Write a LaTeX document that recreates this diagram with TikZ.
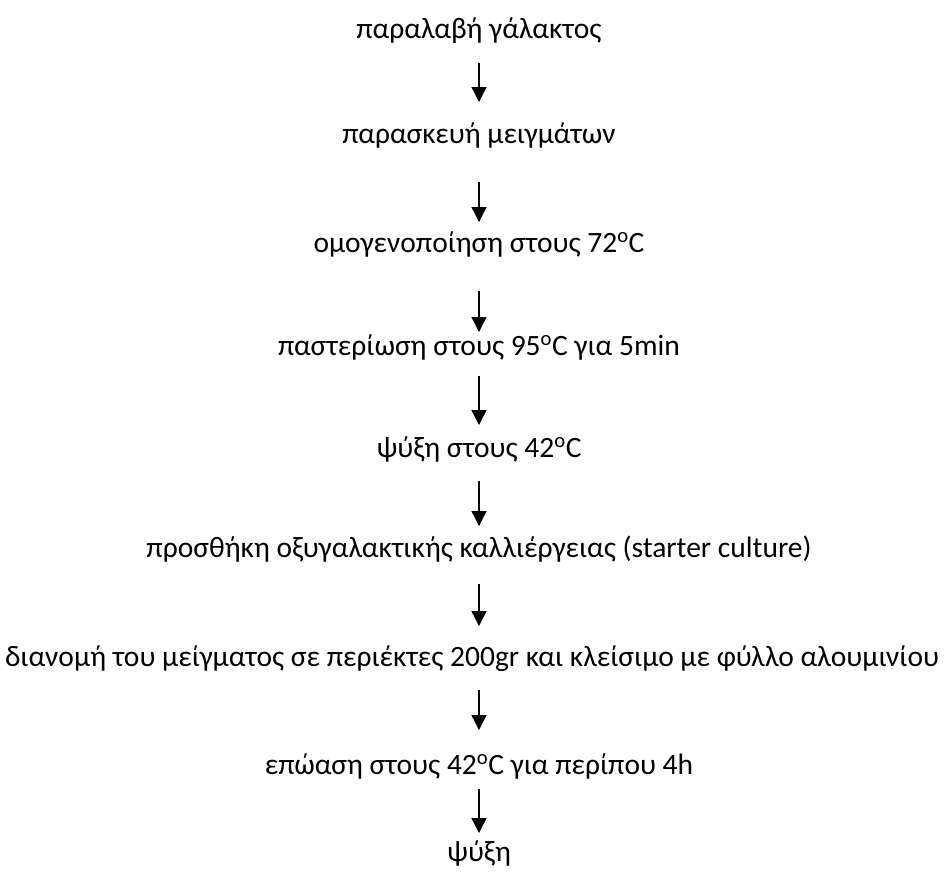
\documentclass[tikz,border=0pt]{standalone}
\usepackage{fontspec}
\setmainfont{Carlito}
\usetikzlibrary{arrows.meta}
\tikzset{
  stepnode/.style={anchor=base, inner sep=0pt, font=\fontsize{29.5}{34}\selectfont},
  flowarrow/.style={line width=1.3pt, -{Triangle[width=15pt,length=15pt]}},
}
\newcommand{\degC}{\textsuperscript{o}C}
\begin{document}
\begin{tikzpicture}[x=1pt,y=-1pt]
\useasboundingbox (0,0) rectangle (944,871);
\node[stepnode] (s1) at (479,38) {παραλαβή γάλακτος};
\node[stepnode] (s2) at (479,143) {παρασκευή μειγμάτων};
\node[stepnode] (s3) at (479,252) {ομογενοποίηση στους 72\degC};
\node[stepnode] (s4) at (479,355) {παστερίωση στους 95\degC{} για 5min};
\node[stepnode] (s5) at (479,457) {ψύξη στους 42\degC};
\node[stepnode] (s6) at (479,557) {προσθήκη οξυγαλακτικής καλλιέργειας (starter culture)};
\node[stepnode] (s7) at (472,666) {διανομή του μείγματος σε περιέκτες 200gr και κλείσιμο με φύλλο αλουμινίου};
\node[stepnode] (s8) at (479,774) {επώαση στους 42\degC{} για περίπου 4h};
\node[stepnode] (s9) at (479,861) {ψύξη};
\coordinate (a1s) at (479,63);  \coordinate (a1e) at (479,102);
\coordinate (a2s) at (479,182); \coordinate (a2e) at (479,222);
\coordinate (a3s) at (479,291); \coordinate (a3e) at (479,332);
\coordinate (a4s) at (479,376); \coordinate (a4e) at (479,425);
\coordinate (a5s) at (479,481); \coordinate (a5e) at (479,526);
\coordinate (a6s) at (479,584); \coordinate (a6e) at (479,626);
\coordinate (a7s) at (479,690); \coordinate (a7e) at (479,730);
\coordinate (a8s) at (479,789); \coordinate (a8e) at (479,833);
\foreach \i in {1,...,8} {\draw[flowarrow] (a\i s) -- (a\i e);}
\end{tikzpicture}
\end{document}
